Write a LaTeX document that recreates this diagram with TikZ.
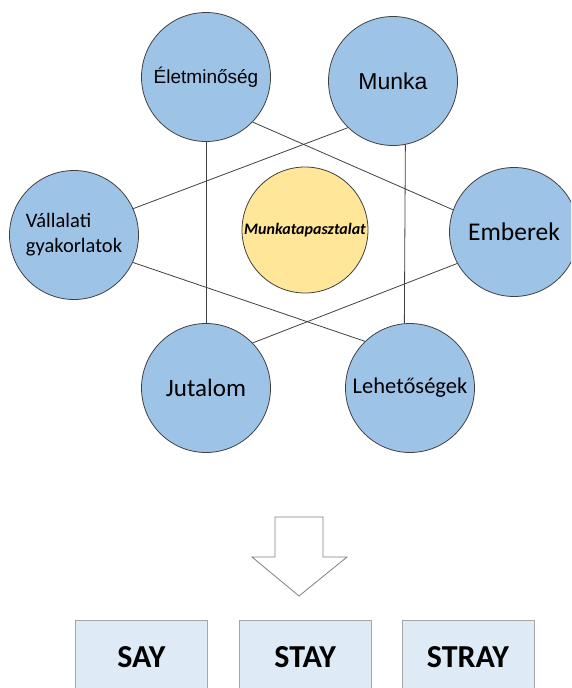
\documentclass[tikz,border=0pt]{standalone}
\usepackage{fontspec}
\setmainfont{Carlito}
\newfontfamily\arialfont{Liberation Sans}
\usetikzlibrary{positioning}
\definecolor{circblue}{HTML}{9DC3E6}
\definecolor{circyellow}{HTML}{FFE699}
\definecolor{boxblue}{HTML}{DEEBF7}
\definecolor{boxgray}{HTML}{A6A6A6}

\begin{document}
\begin{tikzpicture}[x=1pt, y=-1pt,
    node distance=31pt,
    roundnode/.style={circle, draw=black!75, fill=circblue, line width=0.8pt, minimum size=129pt, inner sep=0pt},
    centernode/.style={roundnode, fill=circyellow, minimum size=126pt},
    squarednode/.style={rectangle, draw=boxgray, fill=boxblue, line width=0.8pt, minimum width=132pt, minimum height=74pt, inner sep=0pt, font=\fontsize{32}{38}\selectfont\bfseries},
    link/.style={line width=0.8pt, color=black!75},
]
\useasboundingbox (0,0) rectangle (571,688);
\clip (0,0) rectangle (571,688);

%Nodes
\node[roundnode, font=\arialfont\fontsize{19}{23}\selectfont] (elet) at (206,77) {Életminőség};
\node[roundnode, font=\arialfont\fontsize{23}{28}\selectfont] (munka) at (393,81) {Munka};
\node[roundnode, align=left, font=\fontsize{20.5}{25}\selectfont] (vall) at (74,235) {Vállalati\\gyakorlatok};
\node[centernode, font=\fontsize{16}{19}\selectfont\bfseries\itshape] (tapasz) at (305,230) {Munkatapasztalat};
\node[roundnode, font=\fontsize{25.5}{30}\selectfont] (ember) at (514,232) {Emberek};
\node[roundnode, font=\fontsize{25}{30}\selectfont] (jutal) at (206,388) {Jutalom};
\node[roundnode, font=\fontsize{22.5}{27}\selectfont] (lehet) at (410,388) {Lehetőségek};

%Lines
\draw[link] (elet.south) -- (jutal.north);
\draw[link] (munka.-79) -- (lehet.95);
\draw[link] (elet.-44) -- (ember.160);
\draw[link] (munka.-134) -- (vall.24);
\draw[link] (vall.-25) -- (lehet.134);
\draw[link] (ember.-151) -- (jutal.44);

%Arrow
\draw[draw=black!50, fill=white, line width=0.8pt]
  (275,517) -- (323,517) -- (323,557) -- (347,557) -- (299,596)
  -- (252,557) -- (275,557) -- cycle;

%Boxes
\node[squarednode, anchor=north west] (say) at (75,620) {SAY};
\node[squarednode] (stay) [right=31pt of say] {STAY};
\node[squarednode] (stray) [right=30pt of stay] {STRAY};

\end{tikzpicture}
\end{document}
